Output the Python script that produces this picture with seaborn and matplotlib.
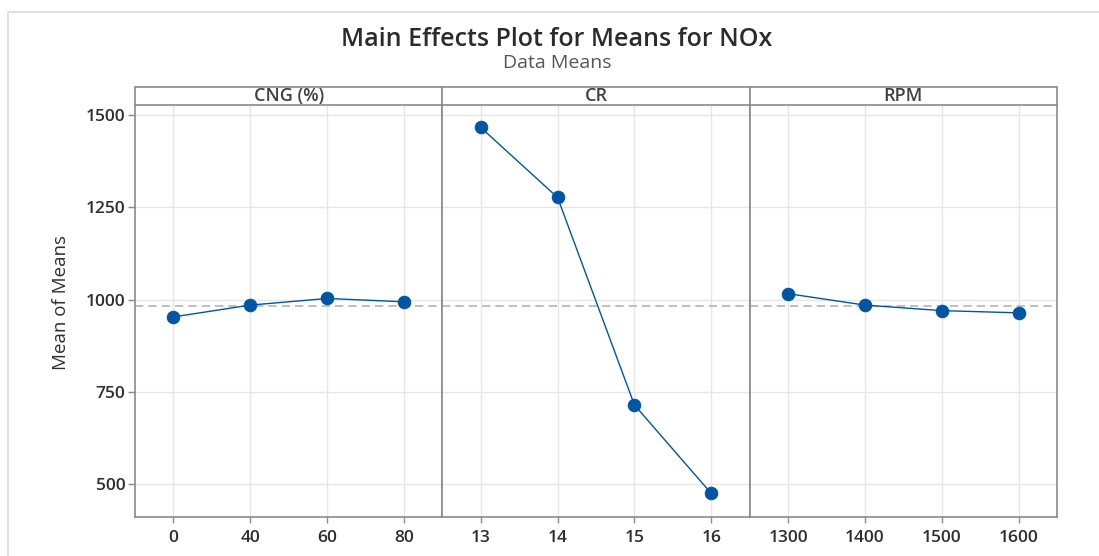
import numpy as np
import pandas as pd
import matplotlib
matplotlib.use("Agg")
import matplotlib.pyplot as plt
from matplotlib.patches import Rectangle
import seaborn as sns

# ---- data ----
factors = ["CNG (%)", "CR", "RPM"]
cng_levels = ["0", "40", "60", "80"]
cng_means = [953, 985, 1003, 994]
cr_levels = ["13", "14", "15", "16"]
cr_means = [1467, 1277, 714, 474]
rpm_levels = ["1300", "1400", "1500", "1600"]
rpm_means = [1016, 985, 970, 964]
y_ticks = [500, 750, 1000, 1250, 1500]

levels = [cng_levels, cr_levels, rpm_levels]
means = [cng_means, cr_means, rpm_means]
grand_mean = np.mean(cng_means + cr_means + rpm_means)

sns.set_theme(style="white")
plt.rcParams["font.family"] = ["Open Sans", "DejaVu Sans"]

W, H = 1099, 556
fig = plt.figure(figsize=(W / 100, H / 100), dpi=100)

left_px, right_px = 135, 1057
top_px, bottom_px = 105, 517
strip_top_px = 87
pw = (right_px - left_px) / 3
ph = bottom_px - top_px

line_color = "#0055A5"
spine_color = "#8a8a8a"
grid_color = "#e6e6e6"
text_color = "#2e2e2e"

# outer frame
fig.add_artist(Rectangle((8 / W, -0.05), 1.2, 1 - 12 / H + 0.05, transform=fig.transFigure,
                         fill=False, edgecolor="#dadada", lw=1.2))

axes = []
for i in range(3):
    ax = fig.add_axes([(left_px + i * pw) / W, 1 - bottom_px / H, pw / W, ph / H])
    axes.append(ax)
    df = pd.DataFrame({"level": levels[i], "mean": means[i]})
    ax.set_axisbelow(True)
    for yt in y_ticks:
        ax.axhline(yt, color=grid_color, lw=1, zorder=0)
    for xi in range(4):
        ax.axvline(xi, color=grid_color, lw=1, zorder=0)
    ax.axhline(grand_mean, color="#b5b5b5", lw=1.2, ls=(0, (5, 3)), zorder=1)
    sns.pointplot(data=df, x="level", y="mean", order=levels[i], ax=ax,
                  color=line_color, markers="o", markersize=9, linewidth=1.0,
                  errorbar=None)
    ax.set_xlim(-0.5, 3.5)
    ax.set_ylim(410, 1528)
    ax.set_xlabel("")
    ax.set_ylabel("")
    ax.set_yticks(y_ticks)
    ax.grid(False)
    for s in ["left", "right", "bottom"]:
        ax.spines[s].set_visible(True)
        ax.spines[s].set_color(spine_color)
        ax.spines[s].set_linewidth(1.2)
    ax.spines["top"].set_visible(False)
    ax.tick_params(axis="x", length=4, width=1, color=spine_color, pad=5,
                   labelsize=12.5, labelcolor=text_color, bottom=True)
    for lab in ax.get_xticklabels():
        lab.set_fontweight("semibold")
    if i == 0:
        ax.tick_params(axis="y", length=5, width=1, color=spine_color, pad=2,
                       labelsize=12.5, labelcolor=text_color, left=True)
        for lab in ax.get_yticklabels():
            lab.set_fontweight("semibold")
    else:
        ax.tick_params(axis="y", left=False, labelleft=False)
    # strip
    sh = (top_px - strip_top_px) / ph
    ax.add_patch(Rectangle((0, 1), 1, sh, transform=ax.transAxes, clip_on=False,
                           facecolor="white", edgecolor=spine_color, lw=1.2))
    ax.text(0.5, 1 + sh / 2, factors[i], transform=ax.transAxes, ha="center",
            va="center", fontsize=13, color="#404040", fontweight="semibold")

fig.text(61 / W, 1 - 302 / H, "Mean of Means", rotation=90, ha="center", va="center",
         fontsize=13.5, color=text_color)
fig.text(557 / W, 1 - 40 / H, "Main Effects Plot for Means for NOx", ha="center",
         va="center", fontsize=18, color="#2b2b2b", fontweight="semibold")
fig.text(557 / W, 1 - 63.5 / H, "Data Means", ha="center", va="center", fontsize=14,
         color="#555555")

fig.savefig("out.png", dpi=100)
